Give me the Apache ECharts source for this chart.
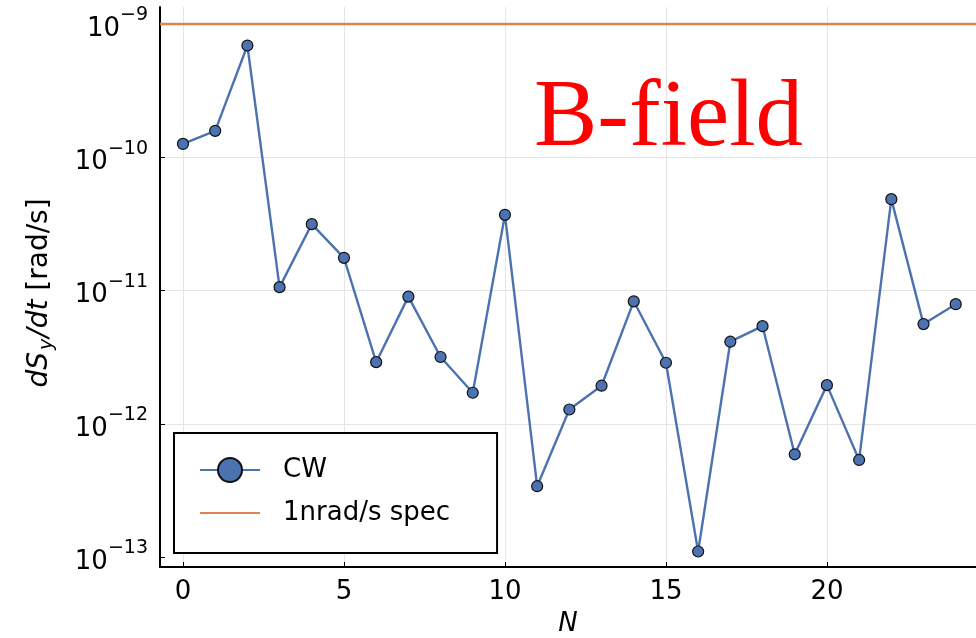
<!DOCTYPE html>
<html>
<head>
<meta charset="utf-8">
<script src="https://cdn.jsdelivr.net/npm/echarts@6/dist/echarts.min.js"></script>
<style>
html,body{margin:0;padding:0;background:#fff;}
#chart{width:976px;height:638px;}
</style>
</head>
<body>
<div id="chart"></div>
<script>
// ---- data ----
const N = [0,1,2,3,4,5,6,7,8,9,10,11,12,13,14,15,16,17,18,19,20,21,22,23,24];
const cw = [1.26e-10,1.58e-10,6.9e-10,1.06e-11,3.15e-11,1.76e-11,2.9e-12,9.0e-12,3.17e-12,1.71e-12,
            3.7e-11,3.4e-13,1.28e-12,1.93e-12,8.3e-12,2.87e-12,1.1e-13,4.13e-12,5.4e-12,5.9e-13,
            1.95e-12,5.35e-13,4.85e-11,5.6e-12,7.9e-12];
const specValue = [1e-9];
const xTicks = [0,5,10,15,20];
const yTicks = [1e-13,1e-12,1e-11,1e-10,1e-9];
const yExps = ['−13','−12','−11','−10','−9'];

const xMin = -0.714, xMax = 24.63;
const yMin = Math.pow(10,-13.075), yMax = Math.pow(10,-8.872);

const cwData = N.map((n,i)=>[n,cw[i]]);
const specData = [[xMin,specValue[0]],[xMax,specValue[0]]];

const chart = echarts.init(document.getElementById('chart'));
const FONT = 'DejaVu Sans';
chart.setOption({
  animation:false,
  backgroundColor:'#fff',
  grid:{left:160,top:7,right:0,bottom:71,containLabel:false,outerBoundsMode:'none'},
  title:{
    text:'B-field', left:534, top:73, padding:0,
    textStyle:{fontFamily:'Liberation Serif',fontSize:95,fontWeight:'normal',color:'#ff0000'}
  },
  legend:{
    left:174, top:433, orient:'vertical',
    data:['CW','1nrad/s spec'],
    itemWidth:60, itemHeight:30, itemGap:17,
    padding:[24,47,27,25],
    borderColor:'#000', borderWidth:2, backgroundColor:'#fff',
    textStyle:{fontFamily:FONT,fontSize:26,color:'#000',padding:[0,0,0,18]}
  },
  xAxis:{
    type:'value', min:xMin, max:xMax,
    name:'N', nameLocation:'middle', nameGap:44,
    nameTextStyle:{fontFamily:FONT,fontSize:26,fontStyle:'italic',color:'#000'},
    axisLine:{show:true,onZero:false,lineStyle:{color:'#000',width:2}},
    axisTick:{show:true,inside:true,length:5,customValues:xTicks,lineStyle:{color:'#000'}},
    axisLabel:{customValues:xTicks,fontFamily:FONT,fontSize:26,color:'#000',margin:12},
    splitLine:{show:true,lineStyle:{color:'#e5e5e5',width:1}}
  },
  yAxis:{
    type:'log', logBase:10, min:yMin, max:yMax,
    name:'{i|dS}{sub|y}{i|/dt}{n| [rad/s]}', nameLocation:'middle', nameGap:103, nameRotate:90,
    nameMoveOverlap:false,
    nameTextStyle:{
      padding:[0,12,0,0],
      rich:{
        i:{fontFamily:FONT,fontSize:28,fontStyle:'italic',color:'#000',lineHeight:34,verticalAlign:'middle'},
        sub:{fontFamily:FONT,fontSize:19,fontStyle:'italic',color:'#000',lineHeight:16,verticalAlign:'bottom',padding:[0,1,0,2]},
        n:{fontFamily:FONT,fontSize:28,color:'#000',lineHeight:34,verticalAlign:'middle'}
      }
    },
    axisLine:{show:true,onZero:false,lineStyle:{color:'#000',width:2}},
    axisTick:{show:true,inside:true,length:5,customValues:yTicks,lineStyle:{color:'#000'}},
    axisLabel:{
      customValues:yTicks, margin:12,
      formatter:function(v){
        const e = Math.round(Math.log10(v));
        const idx = yTicks.findIndex(t=>Math.abs(Math.log10(t)-e)<1e-6);
        return '{b|10}{s|'+yExps[idx]+'}';
      },
      rich:{
        b:{fontFamily:FONT,fontSize:26,color:'#000',lineHeight:36,verticalAlign:'bottom'},
        s:{fontFamily:FONT,fontSize:19,color:'#000',lineHeight:18,verticalAlign:'top'}
      }
    },
    splitLine:{show:true,showMinLine:false,showMaxLine:false,lineStyle:{color:'#e5e5e5',width:1}}
  },
  series:[
    {
      name:'CW', type:'line', data:cwData,
      symbol:'circle', symbolSize:11,
      lineStyle:{color:'#4c72b0',width:2.4},
      itemStyle:{color:'#4c72b0',borderColor:'#111',borderWidth:1.2},
      z:3
    },
    {
      name:'1nrad/s spec', type:'line', data:specData,
      symbol:'none', showSymbol:false,
      lineStyle:{color:'#dd8452',width:2.5},
      itemStyle:{color:'rgba(0,0,0,0)',borderWidth:0},
      z:2
    }
  ]
});
</script>
</body>
</html>
